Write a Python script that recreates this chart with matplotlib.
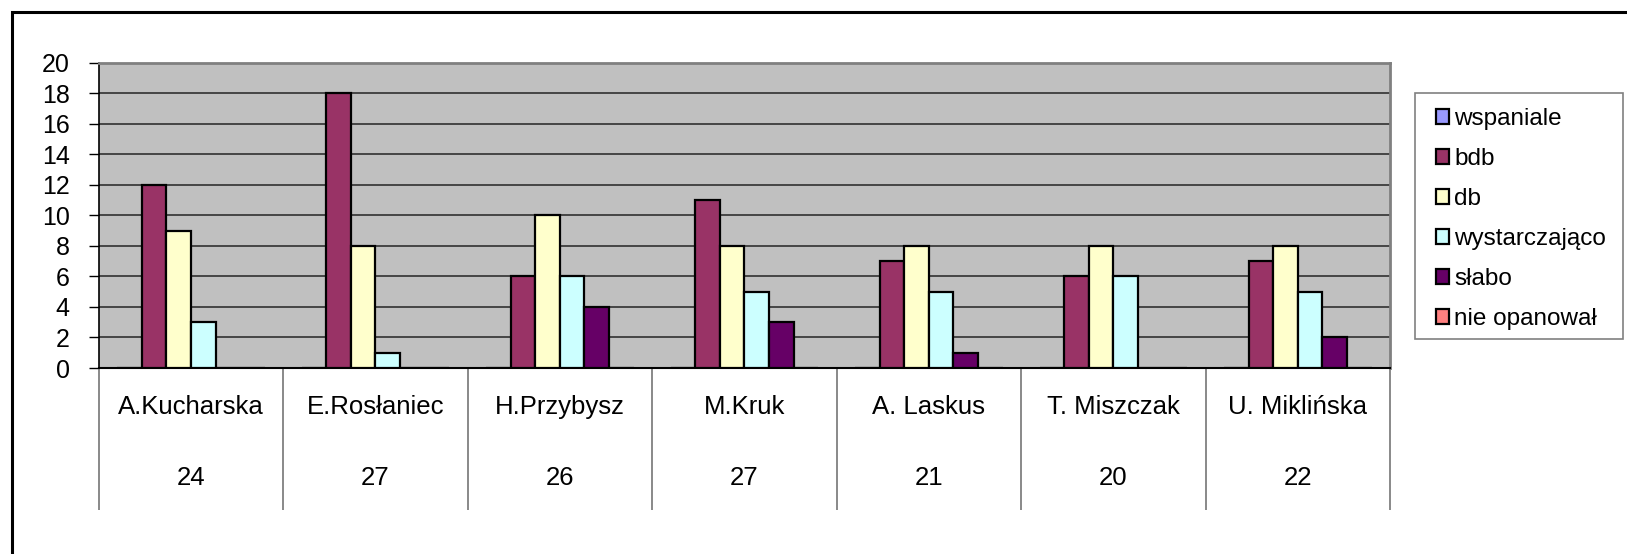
import numpy as np
import matplotlib.pyplot as plt
from matplotlib.patches import Rectangle

plt.rcParams['font.family'] = ['Liberation Sans', 'DejaVu Sans']

teachers = ['A.Kucharska', 'E.Rosłaniec', 'H.Przybysz', 'M.Kruk',
            'A. Laskus', 'T. Miszczak', 'U. Miklińska']
counts = ['24', '27', '26', '27', '21', '20', '22']
series = ['wspaniale', 'bdb', 'db', 'wystarczająco', 'słabo', 'nie opanował']
wspaniale = [0, 0, 0, 0, 0, 0, 0]
bdb = [12, 18, 6, 11, 7, 6, 7]
db = [9, 8, 10, 8, 8, 8, 8]
wystarczajaco = [3, 1, 6, 5, 5, 6, 5]
slabo = [0, 0, 4, 3, 1, 0, 2]
nie_opanowal = [0, 0, 0, 0, 0, 0, 0]
colors = ['#9999FF', '#993366', '#FFFFCC', '#CCFFFF', '#660066', '#FF8080']

W, H = 1627, 554
fig = plt.figure(figsize=(W / 100, H / 100), dpi=100)
ax = fig.add_axes([98.7 / W, 1 - 368 / H, (1390 - 98.7) / W, (368 - 62.7) / H])
ax.set_facecolor('#C0C0C0')

data = [wspaniale, bdb, db, wystarczajaco, slabo, nie_opanowal]
x = np.arange(len(teachers))
w = 1 / 7.5
handles = []
for i, vals in enumerate(data):
    off = (i - 2.5) * w
    b = ax.bar(x + off, vals, w, color=colors[i], edgecolor='black',
               linewidth=1.6, label=series[i], zorder=3)
    handles.append(b)

ax.set_xlim(-0.5, 6.5)
ax.set_ylim(0, 20)
ax.set_yticks(range(0, 21, 2))
ax.yaxis.grid(True, color='#303030', linewidth=1.2, zorder=0)
ax.set_axisbelow(True)
ax.set_xticks([])
ax.tick_params(axis='y', length=7, width=1, labelsize=18, pad=14)
ax.spines['top'].set_color('#808080')
ax.spines['right'].set_color('#808080')
ax.spines['top'].set_linewidth(2)
ax.spines['right'].set_linewidth(2)
ax.spines['left'].set_linewidth(1.2)
ax.spines['bottom'].set_linewidth(1.5)

# category table below the axis
tr = ax.get_xaxis_transform()
depth = (510 - 368) / (368 - 62.7)
ax.vlines(np.arange(-0.5, 7, 1), 0, -depth, transform=tr, colors='#808080',
          linewidth=1.3, clip_on=False)
name_y = -(406.7 - 368) / (368 - 62.7)
num_y = -(478 - 368) / (368 - 62.7)
for i in range(len(teachers)):
    ax.text(x[i], name_y, teachers[i], transform=tr, ha='center', va='center', fontsize=18.5)
    ax.text(x[i], num_y, counts[i], transform=tr, ha='center', va='center', fontsize=18.5)

# legend: frame drawn separately, entries placed inside
fig.patches.append(Rectangle((1415 / W, 1 - 339 / H), 208 / W, 246 / H,
                             transform=fig.transFigure, fill=False,
                             edgecolor='#808080', linewidth=1.2))
leg = ax.legend(handles=handles, loc='upper left',
                bbox_to_anchor=(1436 / W, 1 - 108 / H), bbox_transform=fig.transFigure,
                borderaxespad=0, borderpad=0, fontsize=17.5, frameon=False,
                handlelength=0.55, handleheight=0.55,
                handletextpad=0.2, labelspacing=0.74)

# outer chart border
fig.patches.append(Rectangle((12 / W, -0.1), 2, 1.1 - 12 / H, transform=fig.transFigure,
                             fill=False, edgecolor='black', linewidth=2.2))

fig.savefig('out.png', dpi=100)
